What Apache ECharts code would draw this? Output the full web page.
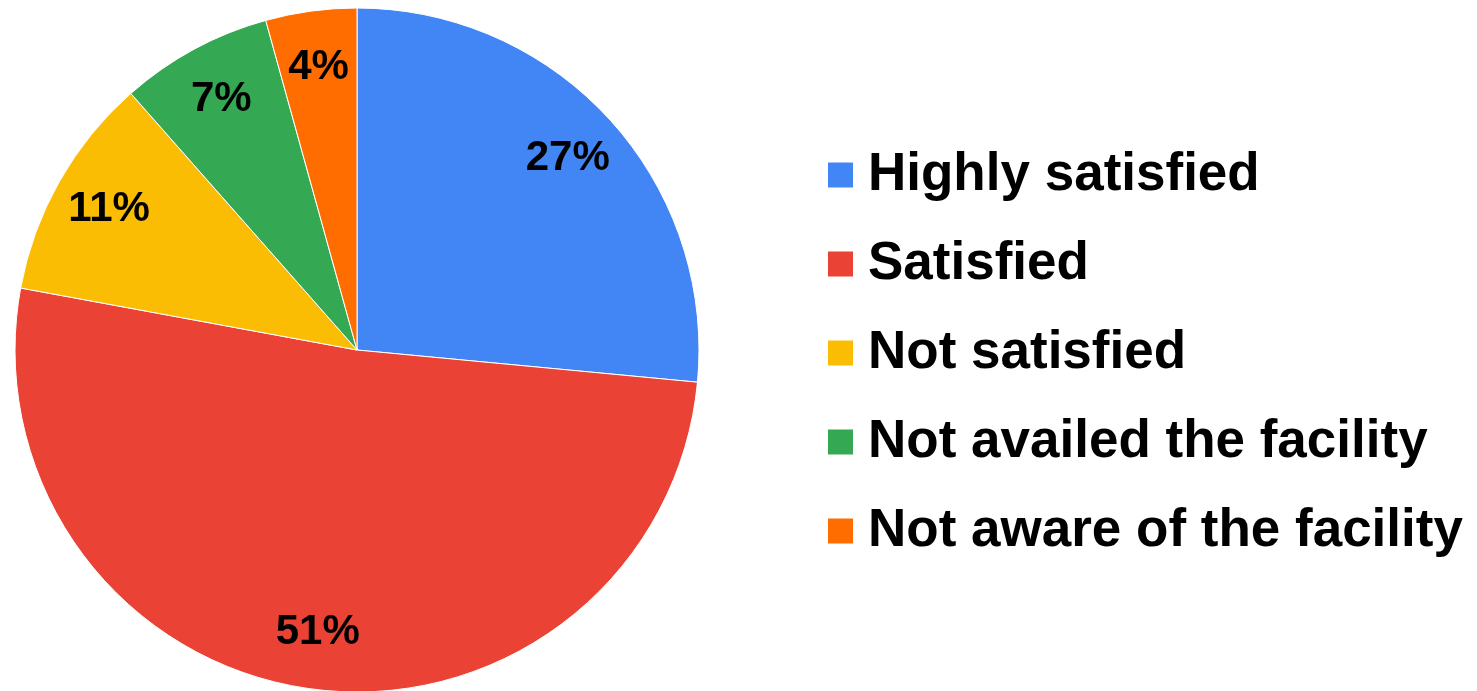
<!DOCTYPE html>
<html>
<head>
<meta charset="utf-8">
<title>Facility satisfaction</title>
<script src="https://cdn.jsdelivr.net/npm/echarts@6/dist/echarts.min.js"></script>
<style>
  html, body { margin: 0; padding: 0; background: #fff; }
  #chart { width: 1477px; height: 691px; }
</style>
</head>
<body>
<div id="chart"></div>
<script>
// categories and shares (percent)
var categories = ['Highly satisfied', 'Satisfied', 'Not satisfied', 'Not availed the facility', 'Not aware of the facility'];
var shares = [26.5, 51.4, 10.6, 7.2, 4.3];
var colors = ['#4285F4', '#EA4335', '#FBBC04', '#34A853', '#FF6D01'];

var pieData = categories.map(function (name, i) {
  return { name: name, value: shares[i] };
});

var chart = echarts.init(document.getElementById('chart'));

var option = {
  color: colors,
  animation: false,
  legend: {
    orient: 'vertical',
    left: 826,
    top: 145,
    padding: 0,
    itemWidth: 27,
    itemHeight: 27,
    itemGap: 29,
    icon: 'rect',
    textStyle: {
      fontFamily: 'Liberation Sans, Arial, sans-serif',
      fontWeight: 'bold',
      fontSize: 53,
      lineHeight: 60,
      color: '#000',
      padding: [0, 0, 0, 9]
    },
    data: categories
  },
  series: [
    {
      // the pie itself
      type: 'pie',
      center: [357, 350],
      radius: [0, 342],
      startAngle: 90,
      clockwise: true,
      label: { show: false },
      labelLine: { show: false },
      itemStyle: { borderColor: '#fff', borderWidth: 1 },
      emphasis: { disabled: true },
      data: pieData
    },
    {
      // transparent ring used only to put the % labels near the rim
      type: 'pie',
      center: [357, 350],
      radius: [222, 342],
      startAngle: 90,
      clockwise: true,
      silent: true,
      percentPrecision: 0,
      itemStyle: { color: 'rgba(0,0,0,0)' },
      label: {
        show: true,
        position: 'inside',
        formatter: '{d}%',
        fontFamily: 'Liberation Sans, Arial, sans-serif',
        fontWeight: 'bold',
        fontSize: 42,
        color: '#000'
      },
      labelLine: { show: false },
      emphasis: { disabled: true },
      data: pieData
    }
  ]
};

chart.setOption(option);
</script>
</body>
</html>
